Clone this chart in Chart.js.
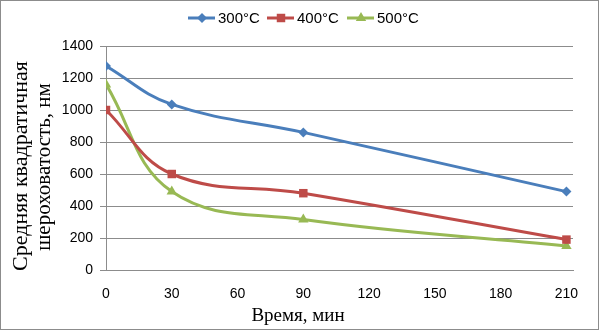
<!DOCTYPE html>
<html>
<head>
<meta charset="utf-8">
<script src="https://cdn.jsdelivr.net/npm/chart.js@4/dist/chart.umd.min.js"></script>
<style>
  html, body { margin: 0; padding: 0; background: #fff; }
  #wrap { width: 599px; height: 330px; }
</style>
</head>
<body>
<div id="wrap"><canvas id="chart" width="599" height="330"></canvas></div>
<script>
// ── data ──
const times = [0, 30, 90, 210];
const xTicks = [0, 30, 60, 90, 120, 150, 180, 210];
const seriesLabels = ['300°C', '400°C', '500°C'];
const rough300 = [1275, 1035, 860, 490];
const rough400 = [1000, 600, 480, 190];
const rough500 = [1160, 490, 315, 150];

const yTitle1 = 'Средняя квадратичная';
const yTitle2 = 'шероховатость, нм';
const xTitle = 'Время, мин';

const colors = ['#4a7ebb', '#be4b48', '#98b954'];
const styles = ['rectRot', 'rect', 'triangle'];
const radii = [5, 6, 6];

const toPoints = vals => vals.map((v, i) => ({ x: times[i], y: v }));

const datasets = [rough300, rough400, rough500].map((vals, i) => ({
  label: seriesLabels[i],
  data: toPoints(vals),
  borderColor: colors[i],
  backgroundColor: colors[i],
  borderWidth: 3,
  tension: 0.4,
  pointStyle: styles[i],
  pointRadius: radii[i],
  pointBorderWidth: 0,
  pointBackgroundColor: colors[i]
}));

// ── frame, titles and legend drawn on top ──
const decor = {
  id: 'decor',
  afterDraw(chart) {
    const ctx = chart.ctx;
    ctx.save();
    // outer frame
    ctx.strokeStyle = '#8c8c8c';
    ctx.lineWidth = 1;
    ctx.strokeRect(0.5, 0.5, 598, 329);

    // y title (two lines, rotated)
    ctx.fillStyle = '#000';
    ctx.textAlign = 'center';
    ctx.textBaseline = 'middle';
    ctx.save();
    ctx.translate(21, 166);
    ctx.rotate(-Math.PI / 2);
    ctx.font = '22px "Liberation Serif"';
    ctx.fillText(yTitle1, 0, 0);
    ctx.restore();
    ctx.save();
    ctx.translate(44, 167);
    ctx.rotate(-Math.PI / 2);
    ctx.font = '21px "Liberation Serif"';
    ctx.fillText(yTitle2, 0, 0);
    ctx.restore();

    // x title
    ctx.font = '19px "Liberation Serif"';
    ctx.fillText(xTitle, 298, 316);

    // legend: line + marker + text
    const legendX = [188, 267, 347];
    const ly = 18;
    ctx.font = '15px "Liberation Sans"';
    ctx.textAlign = 'left';
    chart.data.datasets.forEach((ds, i) => {
      const x0 = legendX[i];
      ctx.strokeStyle = ds.borderColor;
      ctx.lineWidth = 3;
      ctx.beginPath();
      ctx.moveTo(x0, ly);
      ctx.lineTo(x0 + 27, ly);
      ctx.stroke();
      ctx.fillStyle = ds.borderColor;
      Chart.helpers.drawPoint(ctx, {
        pointStyle: ds.pointStyle, radius: ds.pointRadius, rotation: 0, borderWidth: 0
      }, x0 + 14, ly);
      ctx.fillStyle = '#000';
      ctx.fillText(ds.label, x0 + 30, ly + 1);
    });
    ctx.restore();
  }
};

new Chart(document.getElementById('chart'), {
  type: 'line',
  data: { datasets: datasets },
  options: {
    responsive: false,
    animation: false,
    layout: { padding: { left: 0, right: 26, top: 46, bottom: 0 } },
    plugins: { legend: { display: false }, tooltip: { enabled: false } },
    scales: {
      x: {
        type: 'linear',
        min: 0,
        max: 213,
        afterBuildTicks: axis => { axis.ticks = xTicks.map(v => ({ value: v })); },
        afterFit: axis => { axis.height = 60; },
        grid: { display: false },
        border: { color: '#8c8c8c', width: 1 },
        ticks: { color: '#000', font: { family: 'Liberation Sans', size: 14 }, padding: 8, maxRotation: 0 }
      },
      y: {
        min: 0,
        max: 1400,
        afterFit: axis => { axis.width = 106; },
        grid: { color: '#8c8c8c', tickLength: 6 },
        border: { color: '#8c8c8c', width: 1 },
        ticks: {
          stepSize: 200, color: '#000', font: { family: 'Liberation Sans', size: 14 }, padding: 7,
          callback: v => String(v)
        }
      }
    }
  },
  plugins: [decor]
});
</script>
</body>
</html>
